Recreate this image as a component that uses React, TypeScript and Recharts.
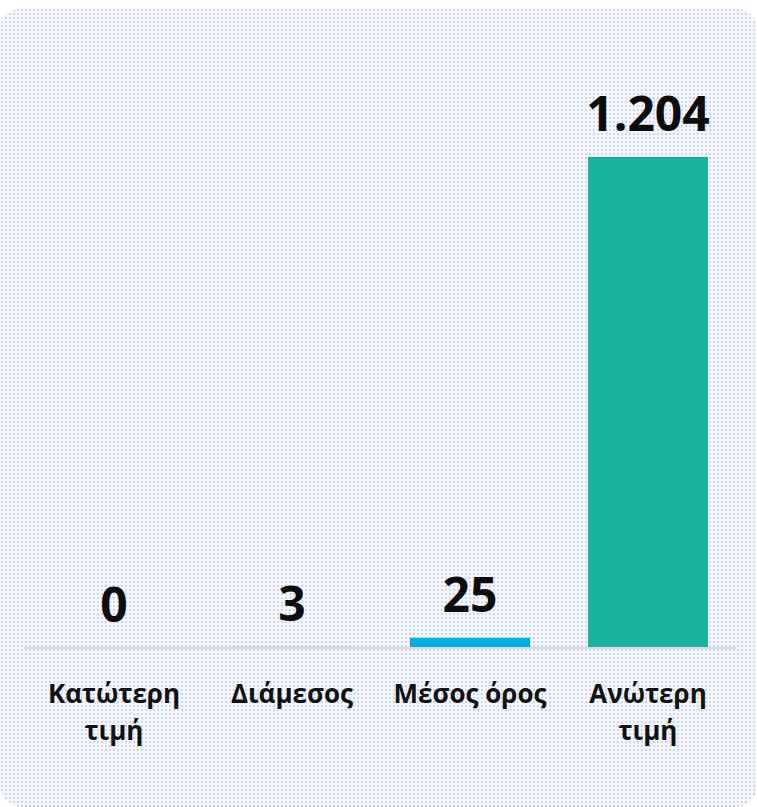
import React from "react";
import { BarChart, Bar, XAxis, YAxis, Cell, ReferenceDot } from "recharts";

const categories = ["Κατώτερη τιμή", "Διάμεσος", "Μέσος όρος", "Ανώτερη τιμή"];
const tickLines = [["Κατώτερη", "τιμή"], ["Διάμεσος"], ["Μέσος όρος"], ["Ανώτερη", "τιμή"]];
const values = [0, 3, 25, 1204];
const colors = ["#7f7f7f", "#5b9bd5", "#00afdf", "#1ab39f"];

const data = categories.map((c, i) => ({ name: c, value: values[i] }));

const fmt = (v: number) => String(v).replace(/\B(?=(\d{3})+(?!\d))/g, ".");

const FONT = "'Open Sans', 'Noto Sans', sans-serif";

const Tick = (props: any) => {
  const { x, y, payload } = props;
  const lines = tickLines[payload.index] || [payload.value];
  return (
    <text x={x} y={y} textAnchor="middle" fontFamily={FONT} fontWeight={700} fontSize={26} fill="#111">
      {lines.map((l: string, i: number) => (
        <tspan key={i} x={x} y={y + 47 + i * 37}>
          {l}
        </tspan>
      ))}
    </text>
  );
};

const makeLabel = (v: number) => (props: any) => {
  const { cx, cy } = props;
  return (
    <text x={cx} y={cy - 26} textAnchor="middle" fontFamily={FONT} fontWeight={700} fontSize={48} fill="#0d0d0d">
      {fmt(v)}
    </text>
  );
};

export default function App() {
  return (
    <div style={{ position: "fixed", left: 0, top: 0, width: 757, height: 807, background: "#fff" }}>
      <div
        style={{
          position: "absolute",
          left: 0,
          top: 8,
          width: 757,
          height: 799,
          borderRadius: 22,
          backgroundColor: "#f4f6fc",
          backgroundImage: "radial-gradient(#cdd6f2 0.9px, transparent 1px)",
          backgroundSize: "4px 4px",
        }}
      />
      <div style={{ position: "absolute", left: 0, top: 0 }}>
        <BarChart width={757} height={807} data={data} margin={{ top: 157, right: 20, left: 25, bottom: 59 }} barSize={120}>
          <YAxis hide domain={[0, 1204]} />
          <XAxis
            dataKey="name"
            height={100}
            interval={0}
            tickLine={false}
            axisLine={{ stroke: "#d9d9d9", strokeWidth: 2 }}
            tick={<Tick />}
          />
          <Bar dataKey="value" isAnimationActive={false}>
            {data.map((d, i) => (
              <Cell key={i} fill={colors[i]} />
            ))}
          </Bar>
          {data.map((d, i) => (
            <ReferenceDot key={i} x={d.name} y={d.value} r={0} ifOverflow="visible" shape={makeLabel(d.value)} />
          ))}
        </BarChart>
      </div>
    </div>
  );
}
